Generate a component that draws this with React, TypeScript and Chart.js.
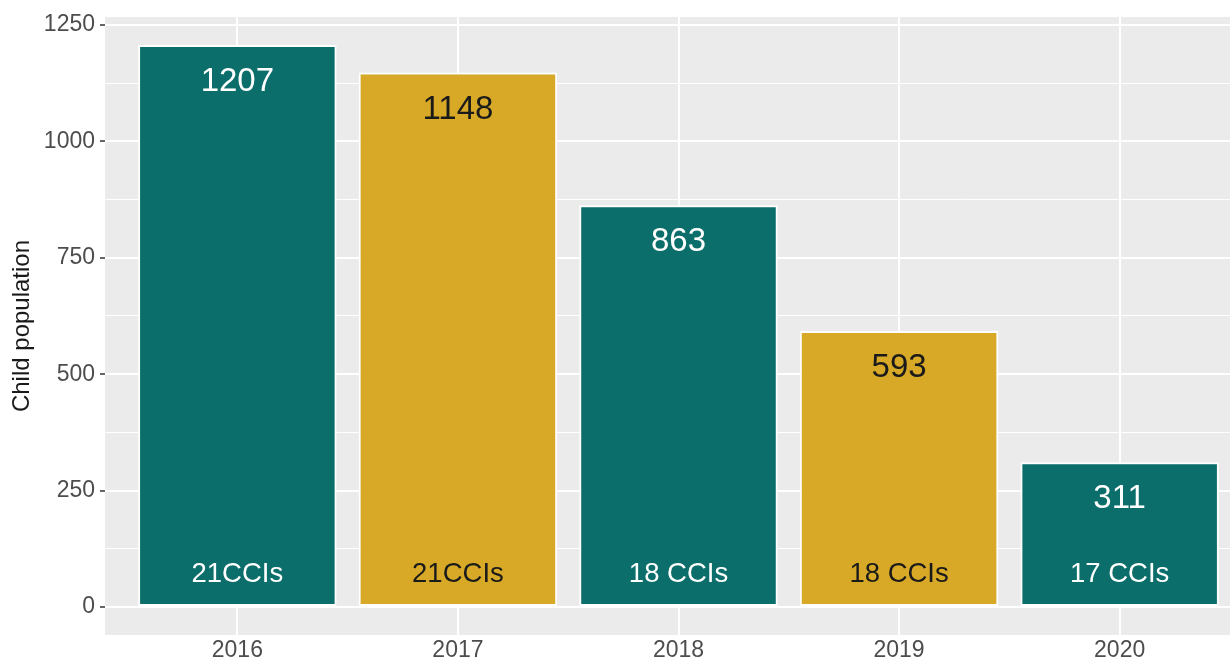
import React, { useEffect, useRef } from "react";
import { Chart, registerables } from "chart.js";

Chart.register(...registerables);

const years = ["2016", "2017", "2018", "2019", "2020"];
const childPopulation = [1207, 1148, 863, 593, 311];
const cciLabels = ["21CCIs", "21CCIs", "18 CCIs", "18 CCIs", "17 CCIs"];
const barColors = ["#0B6E6B", "#D7A927", "#0B6E6B", "#D7A927", "#0B6E6B"];
const labelColors = ["#FFFFFF", "#1A1A1A", "#FFFFFF", "#1A1A1A", "#FFFFFF"];
const yMajorTicks = [0, 250, 500, 750, 1000, 1250];
const yAllTicks = [0, 125, 250, 375, 500, 625, 750, 875, 1000, 1125, 1250];

const FONT = "'Liberation Sans', Arial, Helvetica, sans-serif";

const panelBg = {
  id: "panelBg",
  beforeDraw(chart: any) {
    const { ctx, chartArea: a } = chart;
    ctx.save();
    ctx.fillStyle = "#EBEBEB";
    ctx.fillRect(a.left, a.top, a.right - a.left, a.bottom - a.top);
    ctx.restore();
  },
};

const barLabels = {
  id: "barLabels",
  afterDatasetsDraw(chart: any) {
    const meta = chart.getDatasetMeta(0);
    const ys = chart.scales.y;
    const ctx = chart.ctx;
    ctx.save();
    ctx.textAlign = "center";
    ctx.textBaseline = "middle";
    meta.data.forEach((el: any, i: number) => {
      ctx.fillStyle = labelColors[i];
      ctx.font = `33px ${FONT}`;
      ctx.fillText(String(childPopulation[i]), el.x, el.y + 37);
      ctx.font = `27.5px ${FONT}`;
      ctx.fillText(cciLabels[i], el.x, ys.getPixelForValue(0) - 32);
    });
    ctx.restore();
  },
};

export default function App() {
  const ref = useRef<HTMLCanvasElement | null>(null);

  useEffect(() => {
    if (!ref.current) return;
    const maxVal = Math.max(...childPopulation);
    const pad = maxVal * 0.05;
    const chart = new Chart(ref.current, {
      type: "bar",
      data: {
        datasets: [
          {
            data: childPopulation.map((v, i) => ({ x: i, y: v })),
            backgroundColor: barColors,
            borderColor: "#FFFFFF",
            borderWidth: 2,
            borderSkipped: false,
            barPercentage: 0.9,
            categoryPercentage: 1.0,
          },
        ],
      },
      options: {
        animation: false,
        responsive: true,
        maintainAspectRatio: false,
        layout: { padding: { top: 17, left: 0, right: 0, bottom: 0 } },
        plugins: {
          legend: { display: false },
          tooltip: { enabled: false },
        },
        scales: {
          x: {
            type: "linear",
            offset: false,
            min: -0.6,
            max: years.length - 1 + 0.6,
            afterBuildTicks: (scale: any) => {
              scale.ticks = years.map((_, i) => ({ value: i }));
            },
            afterFit: (scale: any) => {
              scale.height = 42;
              scale.paddingLeft = 0;
              scale.paddingRight = 0;
            },
            border: { display: false },
            grid: {
              offset: false,
              color: "#FFFFFF",
              lineWidth: 2,
              drawTicks: true,
              tickLength: 2,
              tickColor: "rgba(0,0,0,0)",
            },
            ticks: {
              autoSkip: false,
              maxRotation: 0,
              padding: 0,
              color: "#4D4D4D",
              font: { family: FONT, size: 23 },
              callback: (v: any) => years[Number(v)] ?? "",
            },
          },
          y: {
            min: -pad,
            max: maxVal + pad,
            afterBuildTicks: (scale: any) => {
              scale.ticks = yAllTicks.map((v) => ({ value: v }));
            },
            afterFit: (scale: any) => {
              scale.width = 105;
              scale.paddingTop = 0;
              scale.paddingBottom = 0;
            },
            border: { display: false },
            grid: {
              color: "#FFFFFF",
              lineWidth: (c: any) =>
                yMajorTicks.includes(c.tick?.value) ? 2 : 1,
              drawTicks: true,
              tickLength: 5,
              tickColor: (c: any) =>
                yMajorTicks.includes(c.tick?.value) ? "#333333" : "rgba(0,0,0,0)",
              tickWidth: 1.5,
            },
            ticks: {
              autoSkip: false,
              padding: 5,
              color: "#4D4D4D",
              font: { family: FONT, size: 23 },
              callback: (v: any) =>
                yMajorTicks.includes(Number(v)) ? String(v) : "",
            },
            title: {
              display: true,
              text: "Child population",
              color: "#1A1A1A",
              font: { family: FONT, size: 24 },
              padding: { top: 8, bottom: 0 },
            },
          },
        },
      },
      plugins: [panelBg, barLabels],
    } as any);
    return () => chart.destroy();
  }, []);

  return (
    <div
      style={{
        position: "fixed",
        left: 0,
        top: 0,
        width: 1230,
        height: 659,
        overflow: "hidden",
        background: "#FFFFFF",
      }}
    >
      <div style={{ position: "relative", width: 1252, height: 677 }}>
        <canvas ref={ref} />
      </div>
    </div>
  );
}
